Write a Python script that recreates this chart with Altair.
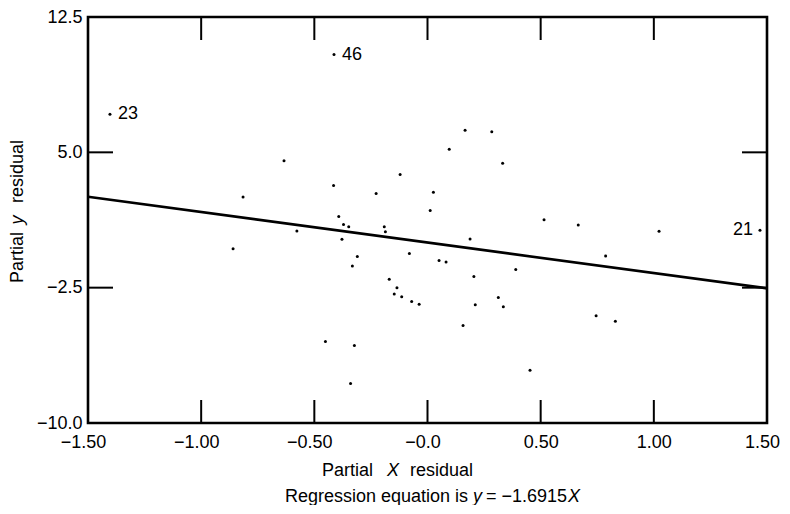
import altair as alt
import pandas as pd

# ---- data ----
pt_x = [-0.859, -0.815, -0.634, -0.577, -0.451, -0.413, -0.415, -0.392, -0.371, -0.348,
        -0.378, -0.332, -0.310, -0.323, -0.340, -0.227, -0.191, -0.186, -0.169, -0.135,
        -0.147, -0.114, -0.070, -0.037, -0.121, -0.080, 0.012, 0.026, 0.051, 0.082,
        0.096, 0.166, 0.188, 0.205, 0.211, 0.157, 0.284, 0.313, 0.332, 0.335,
        0.390, 0.453, 0.515, 0.666, 0.745, 0.787, 0.830, 1.023, -1.403, 1.469]
pt_y = [-0.35, 2.53, 4.54, 0.64, -5.48, 10.42, 3.16, 1.44, 1.00, 0.88,
        0.19, -1.30, -0.77, -5.70, -7.81, 2.72, 0.88, 0.60, -2.04, -2.50,
        -2.85, -3.00, -3.26, -3.42, 3.77, -0.61, 1.78, 2.79, -0.99, -1.08,
        5.17, 6.23, 0.20, -1.88, -3.45, -4.60, 6.14, -3.04, 4.39, -3.56,
        -1.49, -7.08, 1.27, 0.97, -4.06, -0.75, -4.36, 0.63, 7.11, 0.68]
pt_label = [""] * 5 + ["46"] + [""] * 42 + ["23", "21"]

slope = -1.6915
line_x = [-1.5, 1.5]

x_ticks = [-1.5, -1.0, -0.5, 0.0, 0.5, 1.0, 1.5]
x_inner_ticks = [-1.0, -0.5, 0.0, 0.5, 1.0]
y_ticks = [-10.0, -2.5, 5.0, 12.5]
y_inner_ticks = [-2.5, 5.0]

# ---- tables ----
pts = pd.DataFrame({"x": pt_x, "y": pt_y, "lab": pt_label})
line_df = pd.DataFrame({"x": line_x, "y": [slope * v for v in line_x]})
xt_df = pd.DataFrame({"v": x_inner_ticks})
yt_df = pd.DataFrame({"v": y_inner_ticks})

W, H = 679, 406
FONT = "Liberation Sans"
FS = 18

xscale = alt.Scale(domain=[-1.5, 1.5], nice=False, zero=False)
yscale = alt.Scale(domain=[-10, 12.5], nice=False, zero=False)

x_axis = alt.Axis(
    values=x_ticks, title=None, grid=False, ticks=False, domain=False,
    labelFlush=False, labelOverlap=False, labelPadding=10,
    labelFont=FONT, labelFontSize=FS, labelColor="black",
    labelOffset={"condition": {"test": "datum.value < 0.01 || datum.value > 1.4", "value": -5}, "value": 0},
    labelExpr=(
        "datum.value == 0 ? '\u22120.0' : "
        "(datum.value < 0 ? '\u2212' + format(abs(datum.value), '.2f') : format(datum.value, '.2f'))"
    ),
)
y_axis = alt.Axis(
    values=y_ticks, title=None, grid=False, ticks=False, domain=False,
    labelFlush=False, labelOverlap=False, labelPadding=6,
    labelFont=FONT, labelFontSize=FS, labelColor="black",
    labelExpr="datum.value < 0 ? '\u2212' + format(abs(datum.value), '.1f') : format(datum.value, '.1f')",
)

points = alt.Chart(pts).mark_circle(size=9, color="black", opacity=1).encode(
    x=alt.X("x:Q", scale=xscale, axis=x_axis),
    y=alt.Y("y:Q", scale=yscale, axis=y_axis),
)

lab_left = alt.Chart(pts).transform_filter(
    "datum.lab != '' && datum.x < 1.4"
).mark_text(align="left", baseline="middle", dx=8, font=FONT, fontSize=FS, color="black").encode(
    x=alt.X("x:Q", scale=xscale), y=alt.Y("y:Q", scale=yscale), text="lab:N"
)
lab_right = alt.Chart(pts).transform_filter(
    "datum.lab != '' && datum.x >= 1.4"
).mark_text(align="right", baseline="middle", dx=-7, font=FONT, fontSize=FS, color="black").encode(
    x=alt.X("x:Q", scale=xscale), y=alt.Y("y:Q", scale=yscale), text="lab:N"
)

reg_line = alt.Chart(line_df).mark_line(color="black", strokeWidth=2.6).encode(
    x=alt.X("x:Q", scale=xscale), y=alt.Y("y:Q", scale=yscale)
)

tick_len = 23
xt_bottom = alt.Chart(xt_df).mark_rule(color="black", strokeWidth=2).encode(
    x=alt.X("v:Q", scale=xscale), y=alt.value(H), y2=alt.value(H - tick_len)
)
xt_top = alt.Chart(xt_df).mark_rule(color="black", strokeWidth=2).encode(
    x=alt.X("v:Q", scale=xscale), y=alt.value(0), y2=alt.value(tick_len)
)
yt_left = alt.Chart(yt_df).mark_rule(color="black", strokeWidth=2).encode(
    y=alt.Y("v:Q", scale=yscale), x=alt.value(0), x2=alt.value(tick_len + 2)
)
yt_right = alt.Chart(yt_df).mark_rule(color="black", strokeWidth=2).encode(
    y=alt.Y("v:Q", scale=yscale), x=alt.value(W - tick_len - 2), x2=alt.value(W)
)


def txt(s, px, py, align="left", style="normal", angle=0):
    kw = dict(align=align, baseline="alphabetic", font=FONT, fontSize=FS,
              color="black", fontStyle=style)
    if angle:
        kw["angle"] = angle
    return alt.Chart(alt.InlineData(values=[{"t": s}])).mark_text(**kw).encode(
        x=alt.value(px), y=alt.value(py), text="t:N"
    )

# page coordinates -> plot coordinates (plot origin at page 88, 17)
OX, OY = 88, 17
titles = [
    txt("Partial", 322 - OX, 476 - OY, "left"),
    txt("X", 393 - OX, 476 - OY, "center", "italic"),
    txt("residual", 473 - OX, 476 - OY, "right"),
    txt("Regression equation is", 285 - OX, 502 - OY, "left"),
    txt("y", 473 - OX, 502 - OY, "left", "italic"),
    txt("=  \u22121.6915", 486 - OX, 502 - OY, "left"),
    txt("X", 580 - OX, 502 - OY, "right", "italic"),
    txt("Partial", 23 - OX, 283 - OY, "left", "normal", 270),
    txt("y", 23 - OX, 220 - OY, "center", "italic", 270),
    txt("residual", 23 - OX, 140 - OY, "right", "normal", 270),
]

chart = alt.layer(
    reg_line, xt_bottom, xt_top, yt_left, yt_right, points, lab_left, lab_right, *titles
).properties(
    width=W, height=H,
    autosize=alt.AutoSizeParams(type="none"),
    padding={"left": 80, "top": 9, "right": 15, "bottom": 82},
    background="white",
).configure_view(
    stroke="black", strokeWidth=2.6
)

chart.save("out.html", embed_options={"renderer": "svg", "actions": False})
